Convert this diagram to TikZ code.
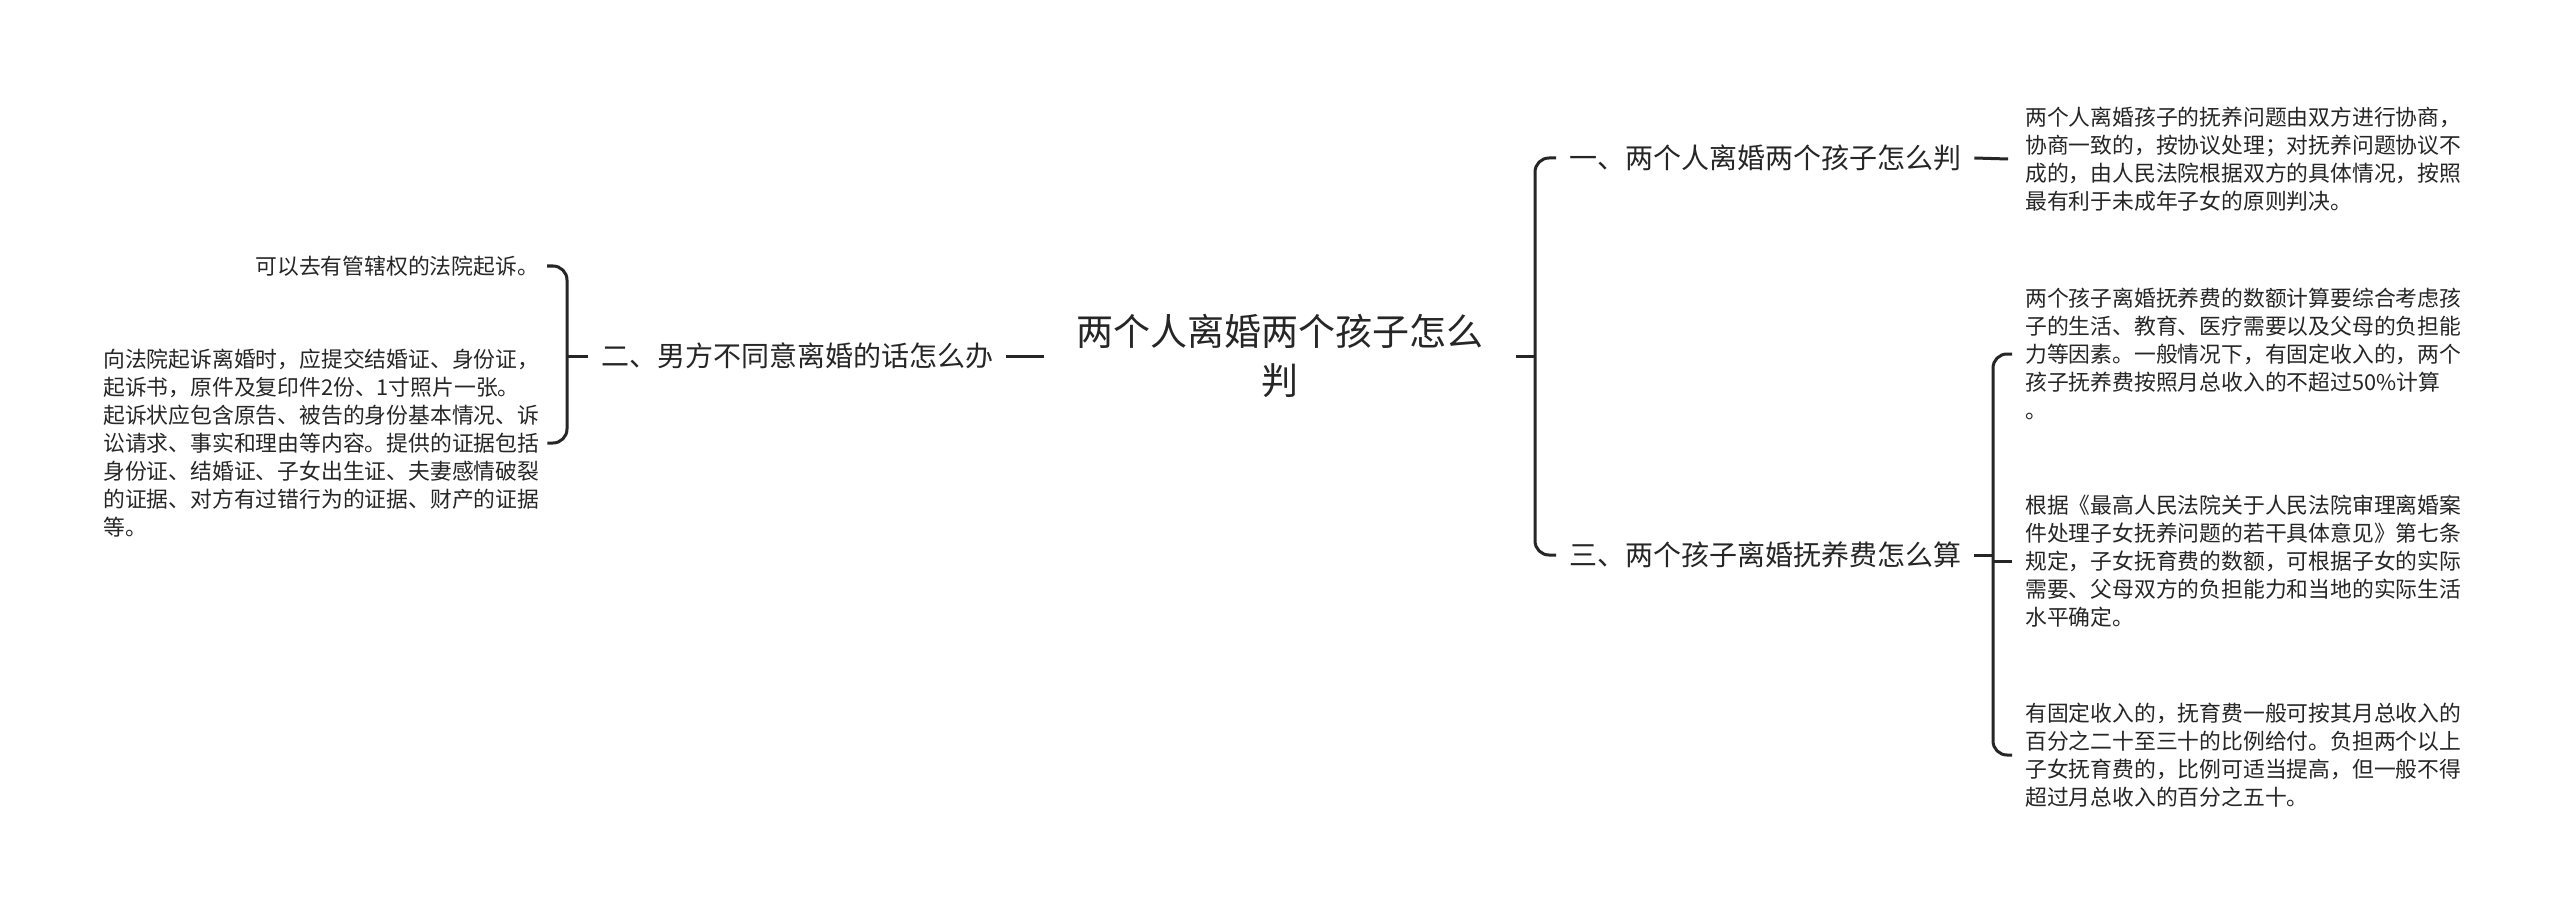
\documentclass[tikz,border=0pt]{standalone}
\usepackage{fontspec}
\setmainfont{Noto Sans CJK SC}
\definecolor{ink}{HTML}{262626}
\begin{document}
\begin{tikzpicture}[x=1pt,y=-1pt,
  conn/.style={draw=ink,line width=3pt,rounded corners=14pt},
  leaf/.style={anchor=west,align=left,inner sep=0pt,text=ink,font=\fontsize{21.8}{28}\selectfont},
  branch/.style={anchor=west,inner xsep=13pt,inner ysep=0pt,text=ink,font=\fontsize{28}{34}\selectfont},
  title/.style={align=center,inner xsep=32pt,inner ysep=0pt,text=ink,font=\fontsize{37}{49}\selectfont}]
\useasboundingbox (0,0) rectangle (2560,912);
\fill[white] (0,0) rectangle (2560,912);

\node[title] (T) at (1280,356) {两个人离婚两个孩子怎么\\判};

\node[branch] (B2) at (588,356) {二、男方不同意离婚的话怎么办};
\node[leaf,anchor=east] (L1) at (539,266) {可以去有管辖权的法院起诉。};
\node[leaf] (L2) at (103,443) {向法院起诉离婚时，应提交结婚证、身份证，\\起诉书，原件及复印件2份、1寸照片一张。\\起诉状应包含原告、被告的身份基本情况、诉\\讼请求、事实和理由等内容。提供的证据包括\\身份证、结婚证、子女出生证、夫妻感情破裂\\的证据、对方有过错行为的证据、财产的证据\\等。};

\node[branch] (B1) at (1556,158) {一、两个人离婚两个孩子怎么判};
\node[branch] (B3) at (1556,555) {三、两个孩子离婚抚养费怎么算};

\node[leaf] (R1) at (2025,159) {两个人离婚孩子的抚养问题由双方进行协商，\\协商一致的，按协议处理；对抚养问题协议不\\成的，由人民法院根据双方的具体情况，按照\\最有利于未成年子女的原则判决。};
\node[leaf] (R3a) at (2025,354) {两个孩子离婚抚养费的数额计算要综合考虑孩\\子的生活、教育、医疗需要以及父母的负担能\\力等因素。一般情况下，有固定收入的，两个\\孩子抚养费按照月总收入的不超过50\%计算\\。};
\node[leaf] (R3b) at (2025,561) {根据《最高人民法院关于人民法院审理离婚案\\件处理子女抚养问题的若干具体意见》第七条\\规定，子女抚育费的数额，可根据子女的实际\\需要、父母双方的负担能力和当地的实际生活\\水平确定。};
\node[leaf] (R3c) at (2025,755) {有固定收入的，抚育费一般可按其月总收入的\\百分之二十至三十的比例给付。负担两个以上\\子女抚育费的，比例可适当提高，但一般不得\\超过月总收入的百分之五十。};

% left side
\draw[conn] (B2.east) -- (T.west);
\coordinate (lb) at (567,356);
\draw[conn] ([xshift=8pt]L1.east) -| (lb) |- ([xshift=8pt]L2.east);
\draw[conn] (lb) -- (B2.west);

% right side
\coordinate (rb) at (1535,356);
\draw[conn] (T.east) -- (rb);
\draw[conn] (B1.west) -| (rb) |- (B3.west);
\draw[conn] (B1.east) -- ([xshift=-17pt]R1.west);

\coordinate (rb2) at (1993,555);
\draw[conn] (B3.east) -- (rb2);
\draw[conn] ([xshift=-13pt]R3a.west) -| (rb2) |- ([xshift=-13pt]R3c.west);
\draw[conn] (rb2 |- R3b.west) -- ([xshift=-13pt]R3b.west);
\end{tikzpicture}
\end{document}
